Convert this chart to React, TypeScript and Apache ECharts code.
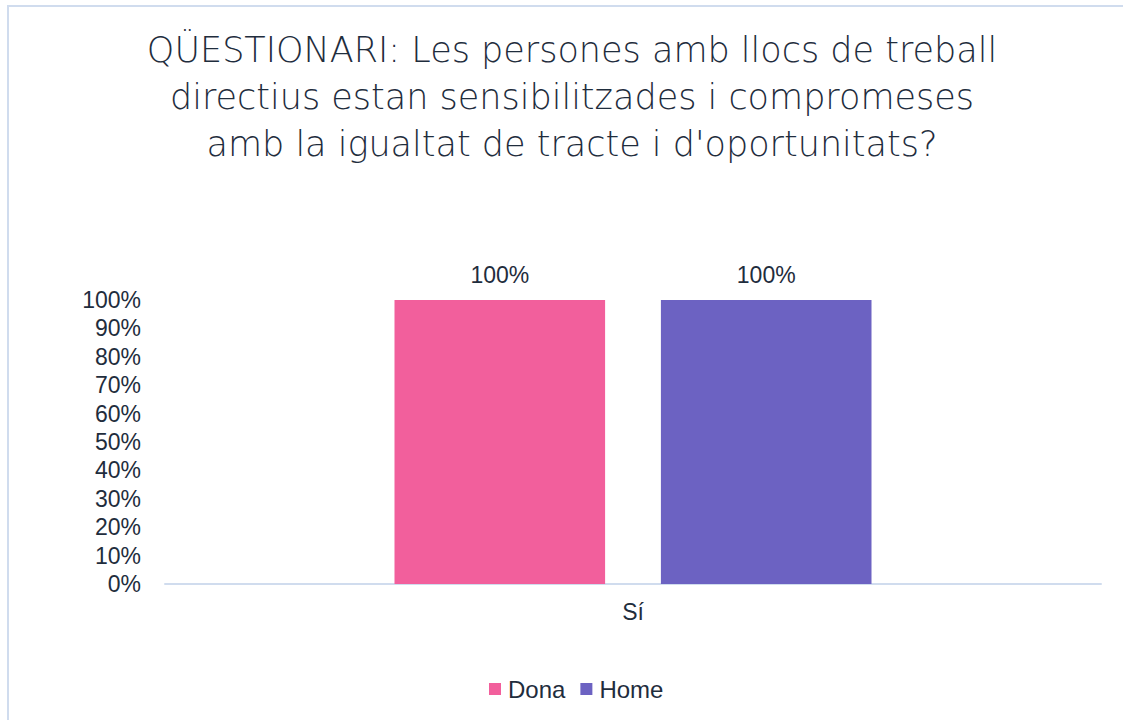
import React, { useEffect, useRef } from "react";
import * as echarts from "echarts";

const titleLines = [
  "QÜESTIONARI: Les persones amb llocs de treball",
  "directius estan sensibilitzades i compromeses",
  "amb la igualtat de tracte i d'oportunitats?",
];
const categories = ["Sí"];
const seriesNames = ["Dona", "Home"];
const donaValues = [100];
const homeValues = [100];
const colors = ["#F25F9C", "#6C62C2"];

export default function App() {
  const ref = useRef<HTMLDivElement>(null);
  useEffect(() => {
    document.body.style.margin = "0";
    const chart = echarts.init(ref.current!, null, { renderer: "svg" });
    const labelFmt = (p: any) => `${p.value}%`;
    const lbl = { show: true, position: "top", distance: 14, formatter: labelFmt, fontFamily: "Liberation Sans", fontSize: 23, color: "#1F2D3D" };
    chart.setOption({
      animation: false,
      backgroundColor: "#ffffff",
      title: titleLines.map((t, i) => ({
        text: t,
        left: 572,
        textAlign: "center",
        top: 30 + i * 47,
        padding: 0,
        textStyle: {
          fontFamily: "DejaVu Sans",
          fontWeight: 200,
          fontSize: 35,
          lineHeight: 40,
          color: "#1F2D3D",
        },
      })),
      legend: {
        data: seriesNames,
        bottom: 19,
        left: 489,
        padding: 0,
        itemWidth: 12,
        itemHeight: 12,
        itemGap: 15,
        icon: "rect",
        textStyle: { fontFamily: "Liberation Sans", fontSize: 24, color: "#1F2D3D", padding: [0, 0, 0, 2] },
      },
      grid: { left: 165, right: 22, top: 300, bottom: 136, containLabel: false },
      xAxis: {
        type: "category",
        data: categories,
        axisLine: { lineStyle: { color: "#D0DCEE", width: 2 } },
        axisTick: { show: false },
        axisLabel: { fontFamily: "Liberation Sans", fontSize: 23, color: "#1F2D3D", margin: 16 },
      },
      yAxis: {
        type: "value",
        min: 0,
        max: 100,
        interval: 10,
        splitLine: { show: false },
        axisLine: { show: false },
        axisTick: { show: false },
        axisLabel: {
          fontFamily: "Liberation Sans",
          fontSize: 23,
          color: "#1F2D3D",
          margin: 24,
          formatter: (v: number) => `${v}%`,
        },
      },
      series: [
        {
          name: seriesNames[0],
          type: "bar",
          data: donaValues,
          barWidth: "22.5%",
          barGap: "26.5%",
          itemStyle: { color: colors[0] },
          label: lbl,
        },
        {
          name: seriesNames[1],
          type: "bar",
          data: homeValues,
          barWidth: "22.5%",
          barGap: "26.5%",
          itemStyle: { color: colors[1] },
          label: lbl,
        },
      ],
    });
    return () => chart.dispose();
  }, []);
  return (
    <div style={{ position: "relative", width: 1123, height: 720, overflow: "hidden" }}>
      <div ref={ref} style={{ position: "absolute", left: 0, top: 0, width: 1123, height: 720 }} />
      <div
        style={{
          position: "absolute",
          left: 7,
          top: 5,
          width: 1200,
          height: 800,
          border: "2px solid #D0DCEE",
          pointerEvents: "none",
        }}
      />
    </div>
  );
}
